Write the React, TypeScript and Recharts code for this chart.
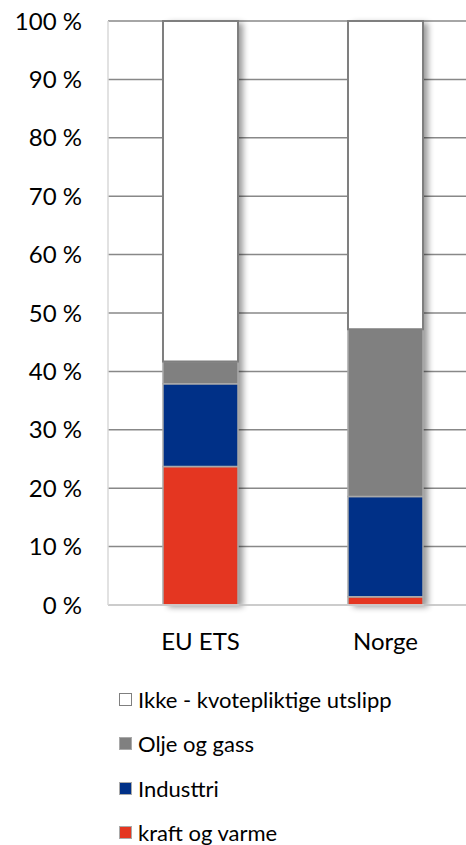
import React from 'react';
import { BarChart, Bar, XAxis, YAxis, CartesianGrid, Legend } from 'recharts';

const categories = ['EU ETS', 'Norge'];
const kraftOgVarme = [23.7, 1.4];
const industri = [14.2, 17.2];
const oljeOgGass = [3.8, 28.6];
const ikkeKvotepliktige = [58.3, 52.8];
const yTicks = [0, 10, 20, 30, 40, 50, 60, 70, 80, 90, 100];

const seriesNames = ['kraft og varme', 'Industtri', 'Olje og gass', 'Ikke - kvotepliktige utslipp'];
const seriesKeys = ['kraft', 'industri', 'olje', 'ikke'];
const seriesColors = ['#E43621', '#003087', '#808080', '#FFFFFF'];
const seriesStrokes = ['#A9A9A9', '#A9A9A9', '#A9A9A9', '#7F7F7F'];

const data = categories.map((c, i) => ({
  name: c,
  kraft: kraftOgVarme[i],
  industri: industri[i],
  olje: oljeOgGass[i],
  ikke: ikkeKvotepliktige[i],
}));

const FONT = 'Lato, "Open Sans", sans-serif';

const ShadowShape = (props: any) => {
  const { x, y, width, height, fill, stroke, strokeWidth, background } = props;
  return (
    <g>
      <defs>
        <filter id="barShadow" x="-50%" y="-10%" width="200%" height="120%">
          <feGaussianBlur stdDeviation="3" />
        </filter>
      </defs>
      {background && (
        <rect
          x={x + 5}
          y={background.y + 2}
          width={width}
          height={background.height}
          fill="#000"
          opacity={0.4}
          filter="url(#barShadow)"
        />
      )}
      <rect x={x} y={y} width={width} height={height} fill={fill} stroke={stroke} strokeWidth={strokeWidth} />
    </g>
  );
};

const LegendContent = () => {
  const order = [3, 2, 1, 0];
  return (
    <div style={{ fontFamily: FONT, fontSize: 22, color: '#000' }}>
      {order.map((i) => (
        <div key={i} style={{ display: 'flex', alignItems: 'center', height: 44.5 }}>
          <span
            style={{
              display: 'inline-block',
              width: 11,
              height: 11,
              background: seriesColors[i],
              border: `1.5px solid ${i === 3 ? '#7F7F7F' : '#A9A9A9'}`,
              marginRight: 6,
              flexShrink: 0,
            }}
          />
          <span>{seriesNames[i]}</span>
        </div>
      ))}
    </div>
  );
};

export default function App() {
  return (
    <div style={{ position: 'fixed', left: 0, top: 0, width: 466, height: 845, overflow: 'hidden', background: '#fff' }}>
      <BarChart width={478} height={845} data={data} margin={{ top: 21, right: 0, left: 0, bottom: 210 }}>
        <CartesianGrid vertical={false} stroke="#888888" strokeWidth={1.5} />
        <XAxis
          dataKey="name"
          axisLine={{ stroke: '#D9D9D9', strokeWidth: 1.5 }}
          tickLine={false}
          tickSize={0}
          tickMargin={28}
          tick={{ fill: '#000', fontSize: 24, fontFamily: FONT }}
        />
        <YAxis
          width={108}
          domain={[0, 100]}
          ticks={yTicks}
          tickFormatter={(v: number) => `${v} %`}
          axisLine={{ stroke: '#D9D9D9', strokeWidth: 1.5 }}
          tickLine={false}
          tickSize={0}
          tickMargin={26}
          tick={{ fill: '#000', fontSize: 24, fontFamily: FONT }}
          interval={0}
        />
        <Legend
          layout="horizontal"
          verticalAlign="middle"
          align="center"
          content={<LegendContent />}
          wrapperStyle={{ top: 677, left: 119, width: 340, height: 180 }}
        />
        {seriesKeys.map((k, i) => (
          <Bar
            key={k}
            dataKey={k}
            name={seriesNames[i]}
            stackId="a"
            barSize={75}
            fill={seriesColors[i]}
            stroke={seriesStrokes[i]}
            strokeWidth={i === 3 ? 2 : 1.5}
            isAnimationActive={false}
            shape={i === 0 ? <ShadowShape /> : undefined}
          />
        ))}
      </BarChart>
    </div>
  );
}
